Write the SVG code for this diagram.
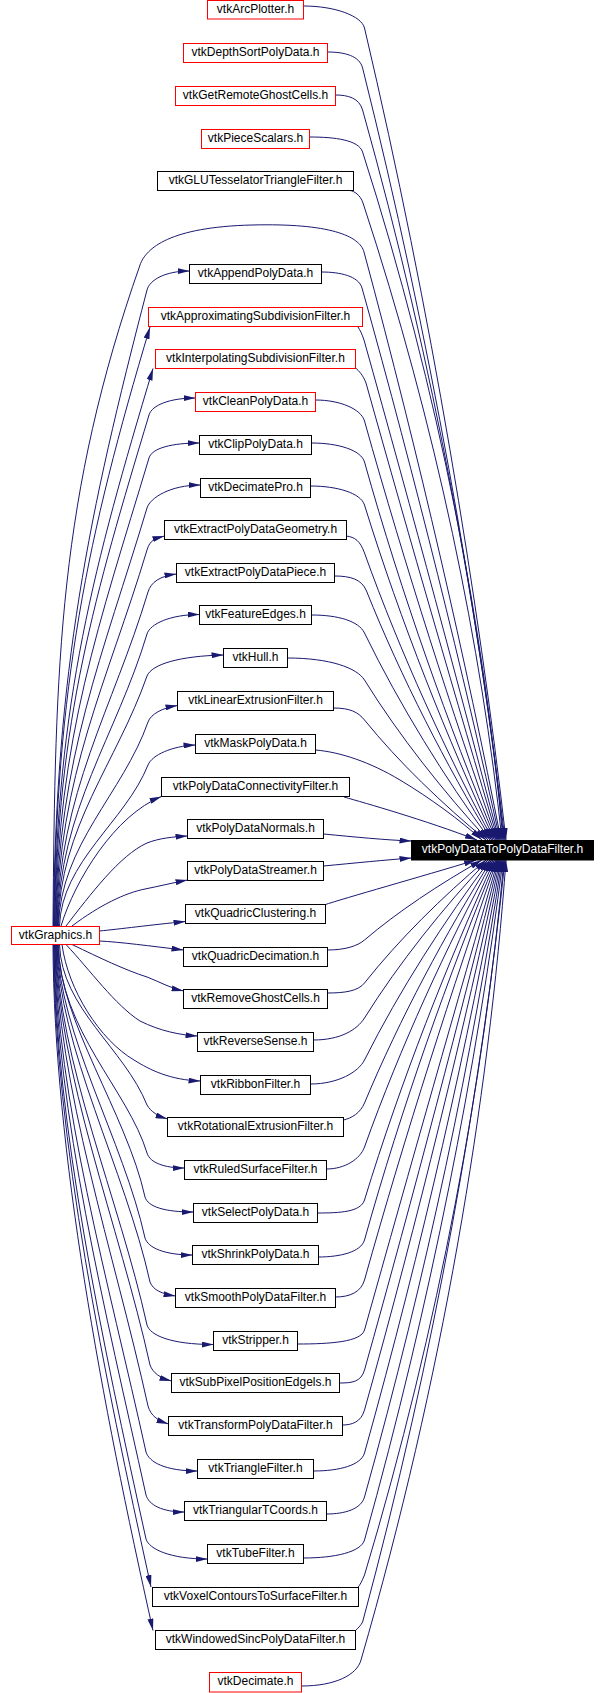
<svg xmlns="http://www.w3.org/2000/svg" width="608" height="1693" viewBox="0 0 608 1693">
<style>
.e path{fill:none;stroke:#191970;stroke-width:1;marker-end:url(#ah)}
.n rect{fill:#fff;stroke:#000;stroke-width:1}
.n.r rect{stroke:#f00}
.n text{font-family:"Liberation Sans",Arial,sans-serif;font-size:12px;text-anchor:middle;fill:#000}
.n.t rect{fill:#000;stroke:#000}
.n.t text{fill:#fff}
</style>
<defs>
<marker id="ah" viewBox="0 0 12 6" refX="12" refY="3" markerWidth="12" markerHeight="6" orient="auto" markerUnits="userSpaceOnUse"><path d="M0,0L12,3L0,6z" fill="#191970"/></marker>
</defs>
<rect x="0" y="0" width="608" height="1693" fill="#fff"/>
<g id="edges" class="e">
<path d="M303.5,6 C335,6 361.7,16 364.5,28 C431.3,312.2 478.2,596.4 506,840"/>
<path d="M327.5,52 C345,52 359.6,56 362.6,68 C430.2,338.2 477.4,608.4 505,840"/>
<path d="M335.5,95 C348,95 359.2,98 362.6,110 C434.1,365.5 480.6,621 504,840"/>
<path d="M309.5,137 C335,137 358.8,140 362.6,152 C439.7,392.8 484.8,633.6 503,840"/>
<path d="M350,190.5 C354,191 360.4,195 363,203 C436.6,426 481.7,648.9 502,840"/>
<path d="M53,926 C55,661.6 59,496 140,265 C146,248 170,227 252,225 C330,223 359.7,236 364,252 C419.6,457.8 466.4,663.6 501,840"/>
<path d="M321.5,272 C340,272 358.6,276 362,288 C416.1,481.2 463.6,674.4 500,840"/>
<path d="M358,327 C360,330 362,334 364,340 C413,515 460,690 499,840"/>
<path d="M355.6,368 C359,371 363,375 366,383 C410.8,543 457.1,702.9 498,840"/>
<path d="M315.5,400 C340,400 361.1,409 364.5,421 C405.6,567.7 452.8,714.3 497,840"/>
<path d="M311.5,443 C338,443 361.1,450 364.5,462 C401.5,594.3 448.8,726.6 496,840"/>
<path d="M310.5,486 C337,486 360.8,493 364.5,505 C400.8,622.3 447.7,739.5 494.5,840"/>
<path d="M346,536 C355,537 360.2,541 364.5,553 C400.5,653.5 446.7,753.9 493,840"/>
<path d="M334.5,576 C350,576 361.7,579 366.5,591 C401.4,678.2 446.4,765.3 491.5,840"/>
<path d="M311.5,615 C338,615 358.7,621 364.5,633 C399.7,705.5 444.9,777.9 490,840"/>
<path d="M287.5,658 C330,658 357.1,668 364.5,680 C399.2,736 443.8,792 488,840"/>
<path d="M333.5,708 C350,708 358,712 364.5,720 C398.5,762 442.4,804 486,840"/>
<path d="M315.5,750 C340,752 370,762 400,780 C430,798 460,820 482,840"/>
<path d="M344,797 C365,803 425,820 477,840"/>
<path d="M323.5,834 C355,837 385,840 411.5,841"/>
<path d="M323.5,866 C355,863 385,860 411.5,858"/>
<path d="M324,905 C345,898 420,877 476,860"/>
<path d="M327.5,950 C345,950 357.5,946 364.5,940 C397.3,912 439.5,884 482,860"/>
<path d="M327.5,993 C345,993 358.2,991 364.5,983 C398.5,940 442.2,896.9 486,860"/>
<path d="M313.5,1040 C340,1040 357,1030 364.5,1018 C399.1,962.7 443.5,907.4 488,860"/>
<path d="M310.5,1084 C338,1084 358.5,1072 364.5,1060 C399.6,990 444.8,920 490,860"/>
<path d="M343.5,1120 C352,1118 360.3,1113 364.5,1103 C400,1018 445.8,932.9 491.5,860"/>
<path d="M326.5,1169 C345,1169 360.2,1159 364.5,1147 C400.5,1046.5 446.7,946.1 493,860"/>
<path d="M317.5,1213 C340,1213 360.8,1212 364.5,1200 C400.9,1081 447.8,962 494.5,860"/>
<path d="M318.5,1257 C340,1257 361.1,1252 364.5,1240 C401.7,1107 449,974 496,860"/>
<path d="M335.5,1297 C350,1297 361.1,1292 364.5,1280 C405.7,1133 452.9,986 497,860"/>
<path d="M297.5,1344 C330,1344 361.1,1342 364.5,1330 C410.6,1165.5 457.4,1001 498,860"/>
<path d="M339.5,1383 C352,1383 361.1,1382 364.5,1370 C414.5,1191.5 461.1,1013 499,860"/>
<path d="M342.5,1425 C352,1425 361.1,1422 364.5,1410 C418.4,1217.5 465,1025 500,860"/>
<path d="M313.5,1471 C340,1471 361.1,1465 364.5,1453 C422.6,1245.4 469,1037.9 501,860"/>
<path d="M326.5,1514 C345,1514 361.1,1509 364.5,1497 C426.9,1274 473,1051.1 502,860"/>
<path d="M303.5,1558 C335,1558 361.1,1552 364.5,1540 C431.1,1302 476.9,1064 503,860"/>
<path d="M357.5,1588 C360,1585 362,1581 364.5,1575 C439.6,1324.8 484.7,1074.5 504,860"/>
<path d="M355,1631 C358,1628 360.5,1626 362.6,1622 C434.6,1355.3 481.2,1088.6 505,860"/>
<path d="M301.5,1686 C335,1686 357,1675 361,1660 C442.2,1380 488.7,1100 506,860"/>
<path d="M53.5,926 C55.5,671.6 89.1,512.6 147,290 C149.6,280 165,271 189.5,271"/>
<path d="M54,926 C56,686.4 87.1,536.7 150,327"/>
<path d="M54.5,926 C56.5,703 94.5,563.6 153,368.5"/>
<path d="M55,926 C57,721.6 95.3,593.9 149,415 C152,405 170,398 195.5,398"/>
<path d="M55.5,926 C57.5,738.8 99.9,621.8 149,458 C152,448 172,443 199.5,443"/>
<path d="M56,926 C58,758.8 103.1,654.3 147,508 C150,498 170,485 200.5,485"/>
<path d="M56.5,926 C58.5,775.6 107.5,681.6 147,550 C150,540 155,538.5 164.5,536"/>
<path d="M57,926 C59,792.4 112.9,708.9 148,592 C151,582 160,576 176.5,574"/>
<path d="M57.5,926 C59.5,809.2 116.3,736.2 147,634 C150,624 170,614.5 199.5,614.5"/>
<path d="M58,926 C60,826 116.4,763.5 147,676 C152,664 180,656 223.5,655"/>
<path d="M58.5,926 C60.5,844.4 123,793.4 148,722 C151,714 162,708 177.5,705.5"/>
<path d="M59.5,926 C61.5,861.6 125.5,821.4 148,765 C152,755 172,746 195.5,745"/>
<path d="M61,926 C75,880 115,815 161.5,796.5"/>
<path d="M66,926 C90,895 120,855 147,843 C160,838 172,837 187.5,836"/>
<path d="M72,926 C100,905 125,893 145,889 C160,886 172,883 187.5,880"/>
<path d="M99.5,931 C120,929 150,925 185.5,921.5"/>
<path d="M99.5,941 C120,942 150,946 183.5,950"/>
<path d="M72,944.5 C100,958 125,970 147,977 C160,982 170,988 183.5,991"/>
<path d="M66,944.5 C90,970 115,1005 140,1021 C160,1031 180,1035 197.5,1036"/>
<path d="M62,944.5 C68,990 100,1040 134,1060 C150,1070 170,1080 200.5,1081"/>
<path d="M59.5,944.5 C61.5,1008.4 124.5,1048.6 147,1105 C151,1112 158,1116 167.5,1119"/>
<path d="M58.5,944.5 C59.5,1030 128,1090 147,1153 C150,1163 165,1168 184.5,1168"/>
<path d="M58,944.5 C59,1020.3 126.7,1113.7 145,1197 C148,1207 165,1212 193.5,1212"/>
<path d="M57.5,944.5 C58.5,1032.6 123.7,1141.1 145,1238 C148,1248 165,1255 192.5,1255"/>
<path d="M57,944.5 C58,1045.8 125.5,1170.6 150,1282 C153,1290 162,1294 175.5,1296"/>
<path d="M56.5,944.5 C57.5,1058.7 119.4,1199.4 147,1325 C150,1335 170,1344.5 213.5,1344.5"/>
<path d="M56,944.5 C57,1070.7 119.5,1226.2 150,1365 C153,1373 160,1378 171.5,1381"/>
<path d="M55.5,944.5 C56.5,1083 114.5,1253.7 148,1406 C151,1416 157,1420 168.5,1424"/>
<path d="M55,944.5 C56,1096.8 109.2,1284.5 146,1452 C149,1462 165,1471 197.5,1471"/>
<path d="M54.5,944.5 C55.5,1109.7 106,1313.3 146,1495 C149,1505 162,1512 184.5,1512"/>
<path d="M54,944.5 C55,1122.9 102.8,1342.8 146,1539 C149,1549 170,1559 207.5,1559"/>
<path d="M53.5,944.5 C54.5,1137.3 104.4,1375 151,1587"/>
<path d="M53,944.5 C54,1150.2 102.2,1403.8 153,1630.5"/>
</g>
<g id="n_arcplotter" class="n r"><rect x="207.5" y="0.5" width="96" height="18.5"/><text x="255.5" y="13">vtkArcPlotter.h</text></g>
<g id="n_depthsort" class="n r"><rect x="183.5" y="43.5" width="144" height="19"/><text x="255.5" y="56">vtkDepthSortPolyData.h</text></g>
<g id="n_getremote" class="n r"><rect x="175.5" y="86.5" width="160" height="19"/><text x="255.5" y="99">vtkGetRemoteGhostCells.h</text></g>
<g id="n_piecescalars" class="n r"><rect x="201.5" y="129.5" width="108" height="19"/><text x="255.5" y="142">vtkPieceScalars.h</text></g>
<g id="n_glu" class="n"><rect x="157.5" y="171.5" width="196" height="19"/><text x="255.5" y="184">vtkGLUTesselatorTriangleFilter.h</text></g>
<g id="n_append" class="n"><rect x="189.5" y="264.5" width="132" height="19"/><text x="255.5" y="277">vtkAppendPolyData.h</text></g>
<g id="n_approx" class="n r"><rect x="148.5" y="307.5" width="214" height="19"/><text x="255.5" y="320">vtkApproximatingSubdivisionFilter.h</text></g>
<g id="n_interp" class="n r"><rect x="155.5" y="349.5" width="200" height="19"/><text x="255.5" y="362">vtkInterpolatingSubdivisionFilter.h</text></g>
<g id="n_clean" class="n r"><rect x="195.5" y="392.5" width="120" height="19"/><text x="255.5" y="405">vtkCleanPolyData.h</text></g>
<g id="n_clip" class="n"><rect x="199.5" y="435.5" width="112" height="19"/><text x="255.5" y="448">vtkClipPolyData.h</text></g>
<g id="n_decimatepro" class="n"><rect x="200.5" y="478.5" width="110" height="19"/><text x="255.5" y="491">vtkDecimatePro.h</text></g>
<g id="n_extractgeom" class="n"><rect x="164.5" y="520.5" width="182" height="19"/><text x="255.5" y="533">vtkExtractPolyDataGeometry.h</text></g>
<g id="n_extractpiece" class="n"><rect x="176.5" y="563.5" width="158" height="19"/><text x="255.5" y="576">vtkExtractPolyDataPiece.h</text></g>
<g id="n_featureedges" class="n"><rect x="199.5" y="605.5" width="112" height="19"/><text x="255.5" y="618">vtkFeatureEdges.h</text></g>
<g id="n_hull" class="n"><rect x="223.5" y="648.5" width="64" height="19"/><text x="255.5" y="661">vtkHull.h</text></g>
<g id="n_linearextrusion" class="n"><rect x="177.5" y="691.5" width="156" height="19"/><text x="255.5" y="704">vtkLinearExtrusionFilter.h</text></g>
<g id="n_mask" class="n"><rect x="195.5" y="734.5" width="120" height="19"/><text x="255.5" y="747">vtkMaskPolyData.h</text></g>
<g id="n_connectivity" class="n"><rect x="161.5" y="777.5" width="188" height="19"/><text x="255.5" y="790">vtkPolyDataConnectivityFilter.h</text></g>
<g id="n_normals" class="n"><rect x="187.5" y="819.5" width="136" height="19"/><text x="255.5" y="832">vtkPolyDataNormals.h</text></g>
<g id="n_target" class="n t"><rect x="411.5" y="840.5" width="182" height="19.5"/><text x="502.5" y="853">vtkPolyDataToPolyDataFilter.h</text></g>
<g id="n_streamer" class="n"><rect x="187.5" y="861.5" width="136" height="19"/><text x="255.5" y="874">vtkPolyDataStreamer.h</text></g>
<g id="n_clustering" class="n"><rect x="185.5" y="904.5" width="140" height="19"/><text x="255.5" y="917">vtkQuadricClustering.h</text></g>
<g id="n_graphics" class="n r"><rect x="11.5" y="926.5" width="88" height="18"/><text x="55.5" y="939">vtkGraphics.h</text></g>
<g id="n_qdecimation" class="n"><rect x="183.5" y="947.5" width="144" height="19"/><text x="255.5" y="960">vtkQuadricDecimation.h</text></g>
<g id="n_removeghost" class="n"><rect x="183.5" y="989.5" width="144" height="19"/><text x="255.5" y="1002">vtkRemoveGhostCells.h</text></g>
<g id="n_reverse" class="n"><rect x="197.5" y="1032.5" width="116" height="19"/><text x="255.5" y="1045">vtkReverseSense.h</text></g>
<g id="n_ribbon" class="n"><rect x="200.5" y="1075.5" width="110" height="19"/><text x="255.5" y="1088">vtkRibbonFilter.h</text></g>
<g id="n_rotational" class="n"><rect x="167.5" y="1117.5" width="176" height="19"/><text x="255.5" y="1130">vtkRotationalExtrusionFilter.h</text></g>
<g id="n_ruled" class="n"><rect x="184.5" y="1160.5" width="142" height="19"/><text x="255.5" y="1173">vtkRuledSurfaceFilter.h</text></g>
<g id="n_select" class="n"><rect x="193.5" y="1203.5" width="124" height="19"/><text x="255.5" y="1216">vtkSelectPolyData.h</text></g>
<g id="n_shrink" class="n"><rect x="192.5" y="1245.5" width="126" height="19"/><text x="255.5" y="1258">vtkShrinkPolyData.h</text></g>
<g id="n_smooth" class="n"><rect x="175.5" y="1288.5" width="160" height="19"/><text x="255.5" y="1301">vtkSmoothPolyDataFilter.h</text></g>
<g id="n_stripper" class="n"><rect x="213.5" y="1331.5" width="84" height="19"/><text x="255.5" y="1344">vtkStripper.h</text></g>
<g id="n_subpixel" class="n"><rect x="171.5" y="1373.5" width="168" height="19"/><text x="255.5" y="1386">vtkSubPixelPositionEdgels.h</text></g>
<g id="n_transform" class="n"><rect x="168.5" y="1416.5" width="174" height="19"/><text x="255.5" y="1429">vtkTransformPolyDataFilter.h</text></g>
<g id="n_trianglefilter" class="n"><rect x="197.5" y="1459.5" width="116" height="19"/><text x="255.5" y="1472">vtkTriangleFilter.h</text></g>
<g id="n_triangulartcoords" class="n"><rect x="184.5" y="1501.5" width="142" height="19"/><text x="255.5" y="1514">vtkTriangularTCoords.h</text></g>
<g id="n_tube" class="n"><rect x="207.5" y="1544.5" width="96" height="19"/><text x="255.5" y="1557">vtkTubeFilter.h</text></g>
<g id="n_voxel" class="n"><rect x="152.5" y="1587.5" width="206" height="19"/><text x="255.5" y="1600">vtkVoxelContoursToSurfaceFilter.h</text></g>
<g id="n_windowed" class="n"><rect x="155.5" y="1630.5" width="200" height="19"/><text x="255.5" y="1643">vtkWindowedSincPolyDataFilter.h</text></g>
<g id="n_decimate" class="n r"><rect x="209.5" y="1672.5" width="92" height="19.5"/><text x="255.5" y="1685">vtkDecimate.h</text></g>
</svg>
